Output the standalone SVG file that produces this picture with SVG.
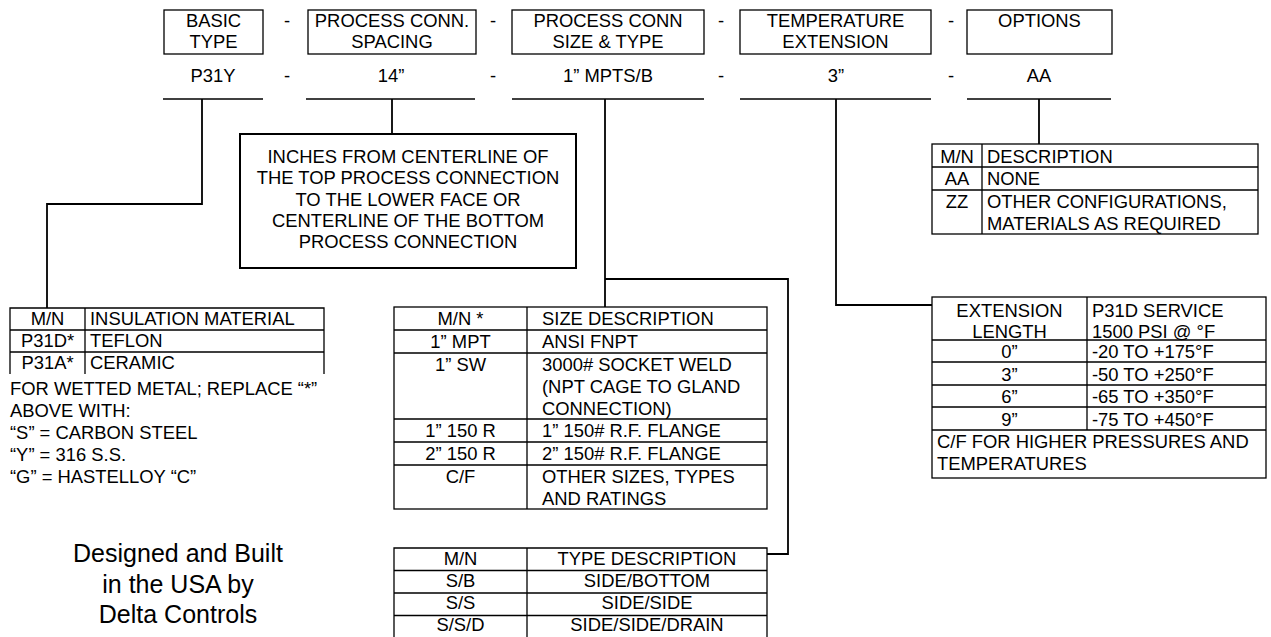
<svg xmlns="http://www.w3.org/2000/svg" width="1271" height="637" viewBox="0 0 1271 637">
<style>
.t{font-family:"Liberation Sans",Arial,sans-serif;font-size:18.4px;fill:#000}
.c{text-anchor:middle}
.big{font-size:25px}
.box{fill:none;stroke:#000;stroke-width:1.3}
.ln{stroke:#000;stroke-width:1.3}
.conn{fill:none;stroke:#000;stroke-width:1.8}
</style>
<rect width="1271" height="637" fill="#fff"/>

<g id="hdr-basic"><rect class="box" x="164" y="10" width="99" height="44"/><text class="t c" x="213.5" y="27">BASIC</text><text class="t c" x="213.5" y="48">TYPE</text></g>
<g id="hdr-spacing"><rect class="box" x="308" y="10" width="168" height="44"/><text class="t c" x="392" y="27">PROCESS CONN.</text><text class="t c" x="392" y="48">SPACING</text></g>
<g id="hdr-size"><rect class="box" x="512" y="10" width="192" height="44"/><text class="t c" x="608" y="27">PROCESS CONN</text><text class="t c" x="608" y="48">SIZE &amp; TYPE</text></g>
<g id="hdr-temp"><rect class="box" x="740" y="10" width="191" height="44"/><text class="t c" x="835.5" y="27">TEMPERATURE</text><text class="t c" x="835.5" y="48">EXTENSION</text></g>
<g id="hdr-options"><rect class="box" x="967" y="10" width="145" height="44"/><text class="t c" x="1039.5" y="27">OPTIONS</text></g>
<g id="hdr-dashes"><text class="t c" x="287" y="27">-</text><text class="t c" x="493" y="27">-</text><text class="t c" x="721" y="27">-</text><text class="t c" x="951" y="27">-</text></g>

<g id="val-basic"><text class="t c" x="213" y="82">P31Y</text><line class="ln" x1="163" y1="99" x2="263" y2="99"/></g>
<g id="val-spacing"><text class="t c" x="391" y="82">14”</text><line class="ln" x1="306" y1="99" x2="475" y2="99"/></g>
<g id="val-size"><text class="t c" x="608" y="82">1” MPTS/B</text><line class="ln" x1="512" y1="99" x2="704" y2="99"/></g>
<g id="val-temp"><text class="t c" x="836" y="82">3”</text><line class="ln" x1="740" y1="99" x2="931" y2="99"/></g>
<g id="val-options"><text class="t c" x="1039" y="82">AA</text><line class="ln" x1="967" y1="99" x2="1111" y2="99"/></g>
<g id="val-dashes"><text class="t c" x="287" y="82">-</text><text class="t c" x="493" y="82">-</text><text class="t c" x="721" y="82">-</text><text class="t c" x="951" y="82">-</text></g>

<g id="connectors">
<path class="conn" d="M202 99V204H47V308"/>
<path class="conn" d="M392 99V134"/>
<path class="conn" d="M605 99V307"/>
<path class="conn" d="M605 279H788V554H767"/>
<path class="conn" d="M836 99V305H932"/>
<path class="conn" d="M1039 99V144"/>
</g>

<g id="spacing-note">
<rect x="240" y="134" width="336" height="134" fill="none" stroke="#000" stroke-width="2"/>
<text class="t c" x="408" y="163">INCHES FROM CENTERLINE OF</text>
<text class="t c" x="408" y="184">THE TOP PROCESS CONNECTION</text>
<text class="t c" x="408" y="205.5">TO THE LOWER FACE OR</text>
<text class="t c" x="408" y="227">CENTERLINE OF THE BOTTOM</text>
<text class="t c" x="408" y="248">PROCESS CONNECTION</text>
</g>

<g id="options-table">
<rect class="box" x="932" y="144" width="326" height="90"/>
<line class="ln" x1="932" y1="167" x2="1258" y2="167"/>
<line class="ln" x1="932" y1="190" x2="1258" y2="190"/>
<line class="ln" x1="982" y1="144" x2="982" y2="234"/>
<text class="t c" x="957" y="163">M/N</text><text class="t" x="987" y="163">DESCRIPTION</text>
<text class="t c" x="957" y="185">AA</text><text class="t" x="987" y="185">NONE</text>
<text class="t c" x="957" y="208">ZZ</text><text class="t" x="987" y="208">OTHER CONFIGURATIONS,</text>
<text class="t" x="987" y="229.5">MATERIALS AS REQUIRED</text>
</g>

<g id="insulation-table">
<path class="box" d="M10 374V308H324V374M10 330H324M10 352H324M85 308V374"/>
<text class="t c" x="47.5" y="325">M/N</text><text class="t" x="90" y="325">INSULATION MATERIAL</text>
<text class="t c" x="47.5" y="347">P31D*</text><text class="t" x="90" y="347">TEFLON</text>
<text class="t c" x="47.5" y="369">P31A*</text><text class="t" x="90" y="369">CERAMIC</text>
</g>

<g id="metal-note">
<text class="t" x="10" y="395">FOR WETTED METAL; REPLACE “*”</text>
<text class="t" x="10" y="417"> ABOVE WITH:</text>
<text class="t" x="10" y="439">“S” = CARBON STEEL</text>
<text class="t" x="10" y="461">“Y” = 316 S.S.</text>
<text class="t" x="10" y="483">“G” = HASTELLOY “C”</text>
</g>

<g id="size-table">
<rect class="box" x="394" y="307" width="373" height="202"/>
<path class="box" d="M527 307V509M394 330H767M394 353H767M394 419H767M394 442H767M394 465H767"/>
<text class="t c" x="460.5" y="325">M/N *</text><text class="t" x="542" y="325">SIZE DESCRIPTION</text>
<text class="t c" x="460.5" y="348">1” MPT</text><text class="t" x="542" y="348">ANSI FNPT</text>
<text class="t c" x="460.5" y="371">1” SW</text><text class="t" x="542" y="371">3000# SOCKET WELD</text>
<text class="t" x="542" y="393">(NPT CAGE TO GLAND</text>
<text class="t" x="542" y="415">CONNECTION)</text>
<text class="t c" x="460.5" y="437">1” 150 R</text><text class="t" x="542" y="437">1” 150# R.F. FLANGE</text>
<text class="t c" x="460.5" y="460">2” 150 R</text><text class="t" x="542" y="460">2” 150# R.F. FLANGE</text>
<text class="t c" x="460.5" y="483">C/F</text><text class="t" x="542" y="483">OTHER SIZES, TYPES</text>
<text class="t" x="542" y="504.5">AND RATINGS</text>
</g>

<g id="type-table">
<path class="box" d="M394 640V548H767V640M394 570.5H767M394 593H767M394 615.5H767M527 548V640"/>
<text class="t c" x="460.5" y="565">M/N</text><text class="t c" x="647" y="565">TYPE DESCRIPTION</text>
<text class="t c" x="460.5" y="587">S/B</text><text class="t c" x="647" y="587">SIDE/BOTTOM</text>
<text class="t c" x="460.5" y="609">S/S</text><text class="t c" x="647" y="609">SIDE/SIDE</text>
<text class="t c" x="460.5" y="631">S/S/D</text><text class="t c" x="647" y="631">SIDE/SIDE/DRAIN</text>
</g>

<g id="extension-table">
<rect class="box" x="932" y="297" width="334" height="181"/>
<path class="box" d="M1087 297V430M932 340H1266M932 362H1266M932 385H1266M932 407H1266M932 430H1266"/>
<text class="t c" x="1009.5" y="317">EXTENSION</text><text class="t" x="1092" y="317">P31D SERVICE</text>
<text class="t c" x="1009.5" y="338">LENGTH</text><text class="t" x="1092" y="338">1500 PSI @ °F</text>
<text class="t c" x="1009.5" y="358">0”</text><text class="t" x="1092" y="358">-20 TO +175°F</text>
<text class="t c" x="1009.5" y="381">3”</text><text class="t" x="1092" y="381">-50 TO +250°F</text>
<text class="t c" x="1009.5" y="403">6”</text><text class="t" x="1092" y="403">-65 TO +350°F</text>
<text class="t c" x="1009.5" y="426">9”</text><text class="t" x="1092" y="426">-75 TO +450°F</text>
<text class="t" x="937" y="448">C/F FOR HIGHER PRESSURES AND</text>
<text class="t" x="937" y="470">TEMPERATURES</text>
</g>

<g id="credit">
<text class="t c big" x="178" y="562">Designed and Built</text>
<text class="t c big" x="178" y="593">in the USA by</text>
<text class="t c big" x="178" y="623">Delta Controls</text>
</g>
</svg>
